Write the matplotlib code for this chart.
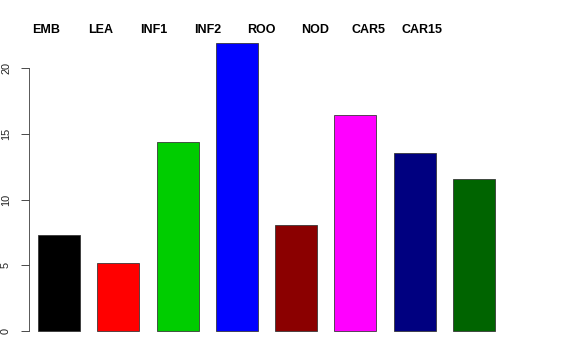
import numpy as np
import matplotlib.pyplot as plt

tissues = ['EMB', 'LEA', 'INF1', 'INF2', 'ROO', 'NOD', 'CAR5', 'CAR15']
values = [7.3, 5.17, 14.37, 21.9, 8.06, 16.4, 13.5, 11.56]
colors = ['#000000', '#FF0000', '#00CD00', '#0000FF', '#8B0000', '#FF00FF', '#000080', '#006400']

plt.rcParams['font.family'] = ['Liberation Sans', 'DejaVu Sans']

fig = plt.figure(figsize=(8, 5), dpi=72)
ax = fig.add_axes([29/576, 17.4/360, 475/576, 312.5/360])

x = np.arange(len(tissues))
ax.bar(x, values, width=0.71, color=colors, edgecolor='#333333', linewidth=0.8)

ax.set_xlim(-0.506, 7.506)
ax.set_ylim(-0.88, 22.88)
ax.set_xticks([])
ax.set_yticks([0, 5, 10, 15, 20])
ax.tick_params(axis='y', length=8, width=0.8, pad=10, labelsize=11, colors='#222222')
for lab in ax.get_yticklabels():
    lab.set_rotation(90)
    lab.set_va('center')
for s in ['top', 'right', 'bottom']:
    ax.spines[s].set_visible(False)
ax.spines['left'].set_bounds(0, 20)
ax.spines['left'].set_linewidth(0.8)
ax.spines['left'].set_color('#333333')

# tissue names across the top
for i, name in enumerate(tissues):
    fig.text((46.5 + 53.7*i)/576, 1 - 30/360, name, ha='center', va='center',
             fontsize=12.5, fontweight='bold')

fig.savefig('out.png', dpi=72)
